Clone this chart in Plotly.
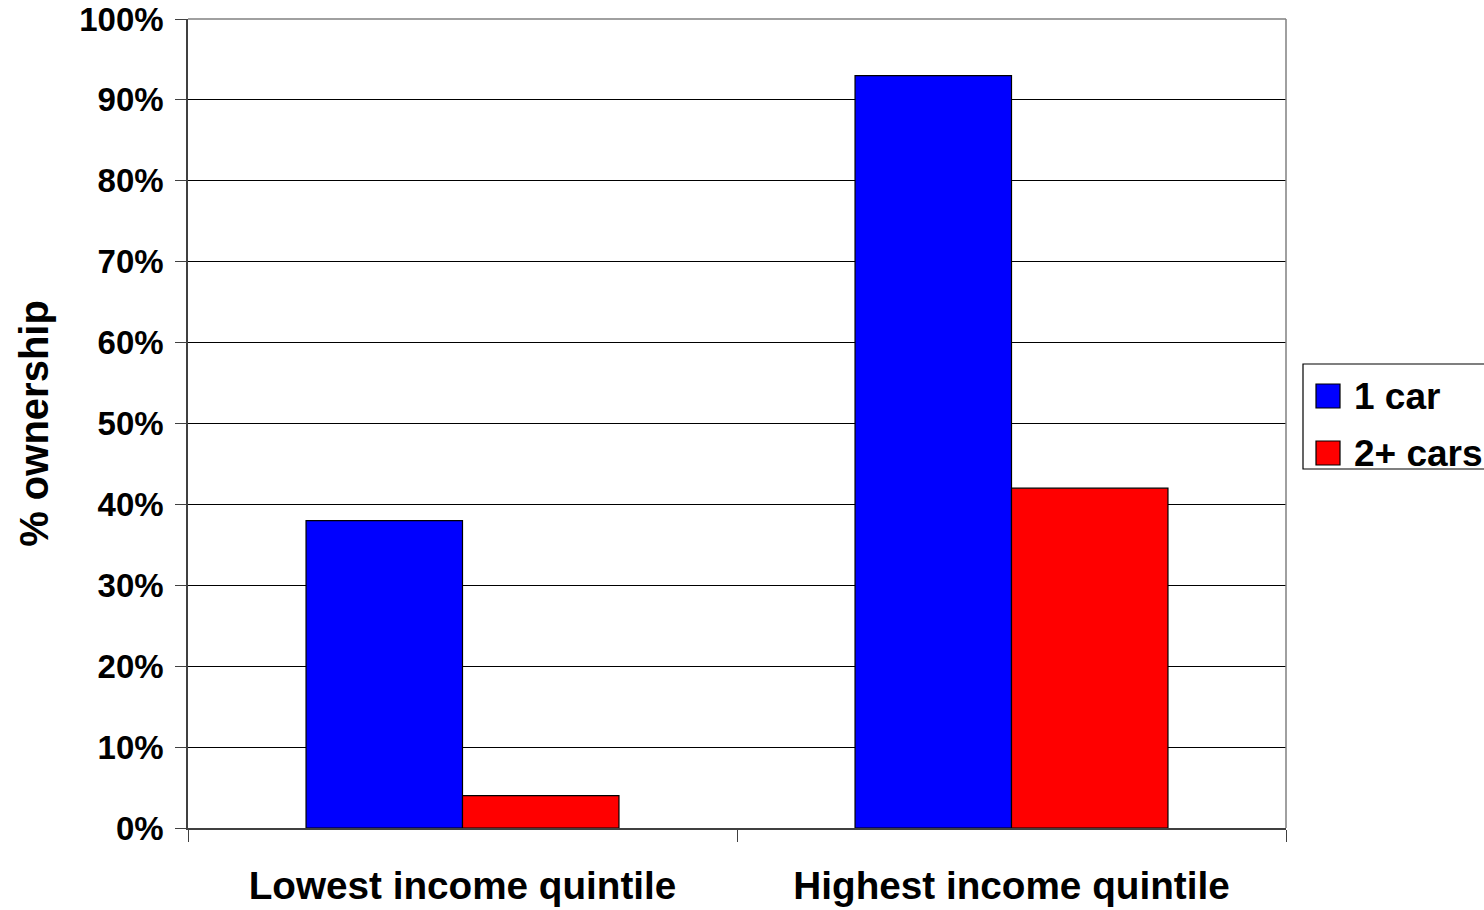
import plotly.graph_objects as go

# Car ownership by income quintile
categories = ["Lowest income quintile", "Highest income quintile"]
one_car = [0.38, 0.93]
two_plus_cars = [0.04, 0.42]
series_names = ["1 car", "2+ cars"]
series_colors = ["#0000FF", "#FF0000"]

W, H = 1484, 910
PLOT_L, PLOT_R, PLOT_T, PLOT_B = 188, 1286, 19, 828
FONT = "Liberation Sans, Arial, sans-serif"


def px(x):
    return (x - PLOT_L) / (PLOT_R - PLOT_L)


def py(y):
    return (PLOT_B - y) / (PLOT_B - PLOT_T)


fig = go.Figure()
for name, values, color in zip(series_names, [one_car, two_plus_cars], series_colors):
    fig.add_trace(go.Bar(
        x=categories, y=values, name=name,
        marker=dict(color=color, line=dict(color="#000000", width=1.2)),
        showlegend=False,
    ))

shapes = [
    # plot frame: top and right edges
    dict(type="line", xref="paper", yref="paper", x0=0, x1=1, y0=1, y1=1,
         line=dict(color="#808080", width=1.5), layer="above"),
    dict(type="line", xref="paper", yref="paper", x0=1, x1=1, y0=0, y1=1,
         line=dict(color="#808080", width=1.5), layer="above"),
    # legend box (runs off the right edge of the page)
    dict(type="rect", xref="paper", yref="paper",
         x0=px(1303), x1=px(1650), y0=py(469), y1=py(364),
         line=dict(color="#000000", width=1.2), fillcolor="white"),
]
annotations = []
legend_rows = [396, 453]
for name, color, yc in zip(series_names, series_colors, legend_rows):
    shapes.append(dict(type="rect", xref="paper", yref="paper",
                       x0=px(1316), x1=px(1340), y0=py(yc + 12), y1=py(yc - 12),
                       line=dict(color="#000000", width=1.2), fillcolor=color))
    annotations.append(dict(text=name, xref="paper", yref="paper",
                            x=px(1352), y=py(yc), xanchor="left", yanchor="middle",
                            showarrow=False,
                            font=dict(family=FONT, size=37, color="#000000", weight="bold")))

fig.update_layout(
    width=W, height=H,
    margin=dict(l=PLOT_L, r=W - PLOT_R, t=PLOT_T, b=H - PLOT_B, autoexpand=False),
    paper_bgcolor="white", plot_bgcolor="white",
    barmode="group", bargap=0.43, bargroupgap=0,
    shapes=shapes, annotations=annotations,
    font=dict(family=FONT, color="#000000"),
    xaxis=dict(
        type="category", tickson="boundaries", ticks="outside", ticklen=12,
        tickcolor="#404040", tickwidth=1.2,
        showline=True, linecolor="#404040", linewidth=1.5,
        showgrid=False, zeroline=False,
        tickfont=dict(family=FONT, size=38.7, color="#000000", weight="bold"),
        ticklabelstandoff=23,
    ),
    yaxis=dict(
        range=[0, 1], dtick=0.1, tickformat=".0%",
        ticks="outside", ticklen=11, tickcolor="#404040", tickwidth=1.2,
        showline=True, linecolor="#404040", linewidth=1.5,
        showgrid=True, gridcolor="#000000", gridwidth=1, zeroline=False,
        tickfont=dict(family=FONT, size=33, color="#000000", weight="bold"),
        ticklabelstandoff=5,
        title=dict(text="% ownership", standoff=18,
                   font=dict(family=FONT, size=40, color="#000000", weight="bold")),
    ),
)

fig.write_html("out.html")
